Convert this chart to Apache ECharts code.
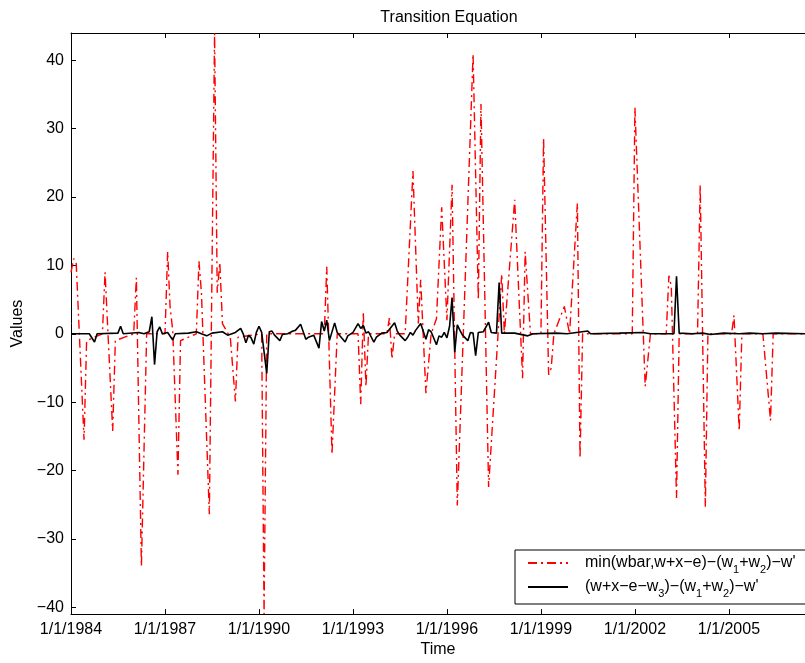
<!DOCTYPE html>
<html>
<head>
<meta charset="utf-8">
<script src="https://cdn.jsdelivr.net/npm/echarts@6/dist/echarts.min.js"></script>
<style>
html, body { margin: 0; padding: 0; background: #fff; }
#chart { width: 805px; height: 663px; }
</style>
</head>
<body>
<div id="chart"></div>
<script>
// red dash-dot series: turning points (monthly dates)
const redDates = [
  '1984-01', '1984-02', '1984-03', '1984-06', '1984-07', '1985-01', '1985-02', '1985-05', '1985-06',
  '1986-01', '1986-02', '1986-04', '1986-06', '1987-01', '1987-02', '1987-03', '1987-04', '1987-06',
  '1987-07', '1988-01', '1988-02', '1988-03', '1988-06', '1988-08', '1988-09', '1988-10', '1988-11',
  '1989-02', '1989-04', '1989-05', '1990-02', '1990-03', '1990-04', '1992-02', '1992-03', '1992-05',
  '1992-07', '1993-03', '1993-04', '1993-05', '1993-06', '1993-07', '1994-02', '1994-03', '1994-04',
  '1994-05', '1994-09', '1994-12', '1995-02', '1995-03', '1995-05', '1995-07', '1995-09', '1995-11',
  '1996-01', '1996-03', '1996-05', '1996-11', '1997-01', '1997-02', '1997-05', '1997-10', '1997-11',
  '1998-03', '1998-06', '1998-07', '1998-09', '1999-01', '1999-02', '1999-04', '1999-05', '1999-06',
  '1999-10', '1999-12', '2000-03', '2000-04', '2000-05', '2001-12', '2002-01', '2002-05', '2002-07',
  '2003-01', '2003-02', '2003-03', '2003-05', '2003-06', '2004-01', '2004-02', '2004-04', '2004-05',
  '2005-02', '2005-03', '2005-05', '2005-06', '2006-02', '2006-05', '2006-06', '2007-07'
];
const redValues = [
  9, 11, 10.5, -15.5, -1, 0, 9, -14.2, -1,
  0, 8.2, -34, 0, 0, 12, 4, 0.5, -20.6,
  -1, 0, 10.6, 6, -26.4, 44, 6, 10.4, 1.5,
  -0.6, -9.9, -0.5, 0, -41, 0, 0, 9.8, -17.6,
  0, 0, -10.3, 3.2, -7.7, 0, 0, 2.3, -3.7,
  0, 0, 23.8, 1.5, 7.9, -8.7, 0, 2.2, 18.5,
  2, 21.8, -25.1, 40.9, 5, 33.6, -22.4, 8.7, 0,
  19.6, -6.5, 12, 0, 0, 28.6, -6, -5, 0,
  4, 0, 19.1, -18.2, 0, 0, 33.1, -7.7, 0,
  0, 8.5, 7, -24, 0, 0, 21.8, -25.3, 0,
  0, 2.7, -14.2, 0, 0, -12.7, 0, 0
];

// black solid series
const blackDates = [
  '1984-01', '1984-08', '1984-10', '1984-11', '1985-07', '1985-08', '1985-09', '1986-03', '1986-05',
  '1986-07', '1986-08', '1986-09', '1986-10', '1986-11', '1986-12', '1987-02', '1987-04', '1987-05',
  '1987-10', '1988-01', '1988-03', '1988-05', '1988-07', '1988-11', '1989-01', '1989-04', '1989-06',
  '1989-07', '1989-08', '1989-09', '1989-10', '1989-11', '1989-12', '1990-01', '1990-02', '1990-04',
  '1990-05', '1990-06', '1990-07', '1990-09', '1990-10', '1990-12', '1991-02', '1991-03', '1991-05',
  '1991-07', '1991-08', '1991-10', '1991-12', '1992-01', '1992-02', '1992-03', '1992-04', '1992-06',
  '1992-07', '1992-08', '1992-10', '1992-11', '1993-01', '1993-03', '1993-04', '1993-05', '1993-06',
  '1993-07', '1993-09', '1993-10', '1993-11', '1993-12', '1994-02', '1994-05', '1994-06', '1994-07',
  '1994-09', '1994-10', '1994-11', '1994-12', '1995-01', '1995-03', '1995-05', '1995-06', '1995-07',
  '1995-09', '1995-10', '1995-11', '1995-12', '1996-01', '1996-02', '1996-03', '1996-04', '1996-05',
  '1996-06', '1996-07', '1996-09', '1996-10', '1996-11', '1996-12', '1997-01', '1997-03', '1997-05',
  '1997-06', '1997-08', '1997-09', '1997-10', '1998-03', '1998-08', '1998-10', '1999-07', '1999-11',
  '2000-07', '2000-08', '2001-07', '2002-04', '2002-07', '2003-04', '2003-05', '2003-06', '2003-11',
  '2004-03', '2004-06', '2004-11', '2005-05', '2005-09', '2006-02', '2006-07', '2007-07'
];
const blackValues = [
  0, 0, -1.2, 0, 0.1, 1.1, 0, 0.2, 0,
  0.3, 2.5, -4.5, 0.3, 1, 0, 0.2, -0.9, 0,
  0.1, 0.3, 0, -0.3, 0.1, 0.3, -0.2, 0.2, 0.8,
  0, -1.3, -0.2, -0.6, -1.5, 0.2, 1.1, 0.2, -5.8,
  0.3, 0.4, -0.2, -1, -0.1, 0, 0.4, 0.5, 1.4,
  -0.8, -0.5, -0.2, -2.1, 1.8, 0.4, 2, -1, 1.6,
  0.2, -0.3, -1.2, -0.3, 0.2, 1.5, 0.8, 1.2, 0.1,
  0.3, -1.2, -0.5, -0.2, 0.1, 0.2, 1.6, 0.4, -0.2,
  -1, -0.5, 0.2, -0.2, 0.5, 1.5, -0.8, 0.6, 0.3,
  -1.6, -0.3, -0.5, 0.2, -0.6, 1.1, 5.3, -2.7, 1.3,
  0.5, -0.2, -1, 0.2, 0.1, -3.2, 0.2, 0.3, 1.7,
  0.2, 0.1, 7.5, 0.1, 0.1, -0.3, 0, 0.1, 0,
  0.4, 0, 0.1, 0.2, 0, 0, 8.4, 0.1, 0,
  0.1, -0.1, 0.1, 0, 0.1, 0, 0.1, 0
];

const tickYears = [1984, 1987, 1990, 1993, 1996, 1999, 2002, 2005];
const yTicks = [-40, -30, -20, -10, 0, 10, 20, 30, 40];

const redName = "min(wbar,w+x-e)-(w1+w2)-w'";
const blackName = "(w+x-e-w3)-(w1+w2)-w'";

const FONT = 'Liberation Sans, Arial, Helvetica, sans-serif';

function toTime(s) {
  const p = s.split('-');
  return new Date(+p[0], +p[1] - 1, 1).getTime();
}

const xMin = new Date(1984, 0, 1).getTime();
const xMax = new Date(2007, 5, 7).getTime();
const xTickValues = tickYears.map(y => new Date(y, 0, 1).getTime());

function pairs(dates, values) {
  return dates.map((d, i) => [toTime(d), values[i]]);
}

const chart = echarts.init(document.getElementById('chart'), null, { renderer: 'canvas' });

const xCommon = {
  type: 'value',
  min: xMin,
  max: xMax,
  splitLine: { show: false },
  axisLine: { show: true, onZero: false, lineStyle: { color: '#000', width: 1 } },
  axisTick: { show: true, inside: true, length: 5, customValues: xTickValues, lineStyle: { color: '#000' } }
};

chart.setOption({
  animation: false,
  backgroundColor: '#fff',
  textStyle: { fontFamily: FONT },
  title: {
    text: 'Transition Equation',
    left: 444,
    textAlign: 'center',
    top: 5,
    textStyle: { fontSize: 16, fontWeight: 'normal', color: '#000', fontFamily: FONT }
  },
  grid: { left: 71, right: -8, top: 33, bottom: 43, containLabel: false },
  legend: {
    orient: 'vertical',
    left: 515,
    top: 550,
    padding: [5, 40, 5, 12],
    itemWidth: 40,
    itemHeight: 14,
    itemGap: 4,
    backgroundColor: '#fff',
    borderColor: '#000',
    borderWidth: 1,
    borderRadius: 0,
    itemStyle: { opacity: 0 },
    data: [redName, blackName],
    formatter: function (name) {
      if (name === redName) {
        return '{g|}{n|min(wbar,w+x\u2212e)\u2212(w}{s|1}{n|+w}{s|2}{n|)\u2212w\'}';
      }
      return '{g|}{n|(w+x\u2212e\u2212w}{s|3}{n|)\u2212(w}{s|1}{n|+w}{s|2}{n|)\u2212w\'}';
    },
    textStyle: {
      color: '#000',
      fontFamily: FONT,
      rich: {
        g: { width: 12 },
        n: { fontSize: 16, color: '#000', fontFamily: FONT },
        s: { fontSize: 11, color: '#000', fontFamily: FONT, lineHeight: 24, verticalAlign: 'bottom' }
      }
    }
  },
  xAxis: [
    Object.assign({}, xCommon, {
      position: 'bottom',
      name: 'Time',
      nameLocation: 'middle',
      nameGap: 26,
      nameTextStyle: { fontSize: 16, color: '#000', fontFamily: FONT },
      axisLabel: {
        customValues: xTickValues,
        margin: 7,
        fontSize: 16,
        color: '#000',
        fontFamily: FONT,
        hideOverlap: false,
        formatter: function (v) { return '1/1/' + new Date(v).getFullYear(); }
      }
    }),
    Object.assign({}, xCommon, {
      position: 'top',
      axisLabel: { show: false }
    })
  ],
  yAxis: {
    type: 'value',
    min: -41,
    max: 44,
    name: 'Values',
    nameLocation: 'middle',
    nameGap: 42,
    nameTextStyle: { fontSize: 16, color: '#000', fontFamily: FONT },
    splitLine: { show: false },
    axisLine: { show: true, onZero: false, lineStyle: { color: '#000', width: 1 } },
    axisTick: { show: true, inside: true, length: 5, customValues: yTicks, lineStyle: { color: '#000' } },
    axisLabel: {
      customValues: yTicks,
      margin: 7,
      fontSize: 16,
      color: '#000',
      fontFamily: FONT,
      formatter: function (v) { return v < 0 ? '\u2212' + Math.abs(v) : String(v); }
    }
  },
  series: [
    {
      name: redName,
      type: 'line',
      xAxisIndex: 0,
      data: pairs(redDates, redValues),
      symbol: 'none',
      clip: true,
      itemStyle: { color: '#ff0000' },
      lineStyle: { color: '#ff0000', width: 1.4, type: [9, 4, 2, 4] }
    },
    {
      name: blackName,
      type: 'line',
      xAxisIndex: 0,
      data: pairs(blackDates, blackValues),
      symbol: 'none',
      clip: true,
      itemStyle: { color: '#000' },
      lineStyle: { color: '#000', width: 1.6, type: 'solid' }
    }
  ]
});
</script>
</body>
</html>
